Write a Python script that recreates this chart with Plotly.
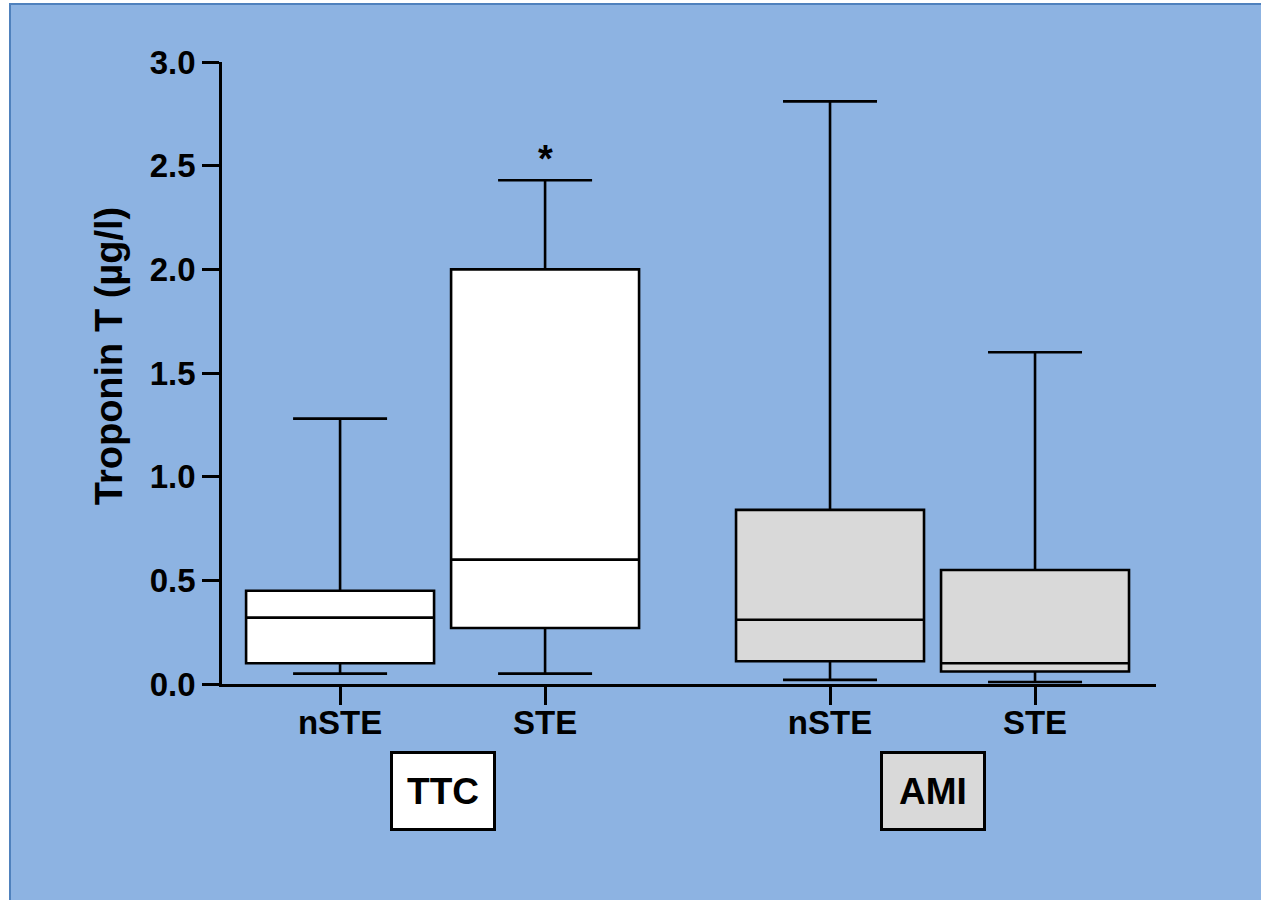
import plotly.graph_objects as go

# ---- data ----
groups = ["TTC", "TTC", "AMI", "AMI"]
subgroups = ["nSTE", "STE", "nSTE", "STE"]
positions = [0.576, 1.576, 2.966, 3.966]
lower_fence = [0.05, 0.05, 0.02, 0.01]
q1_vals = [0.10, 0.27, 0.11, 0.06]
median_vals = [0.32, 0.60, 0.31, 0.10]
q3_vals = [0.45, 2.00, 0.84, 0.55]
upper_fence = [1.28, 2.43, 2.81, 1.60]
fill_colors = {"TTC": "#FFFFFF", "AMI": "#D9D9D9"}
y_ticks = [0.0, 0.5, 1.0, 1.5, 2.0, 2.5, 3.0]

FONT = "Arial, Liberation Sans, Helvetica, sans-serif"
BG = "#8DB3E2"

fig = go.Figure()
for i in range(len(positions)):
    fig.add_trace(go.Box(
        x=[positions[i]],
        q1=[q1_vals[i]], median=[median_vals[i]], q3=[q3_vals[i]],
        lowerfence=[lower_fence[i]], upperfence=[upper_fence[i]],
        width=0.917, whiskerwidth=0.5,
        fillcolor=fill_colors[groups[i]],
        line=dict(color="black", width=2.6),
        boxpoints=False, hoverinfo="skip", showlegend=False,
    ))

# significance asterisk above TTC STE
fig.add_annotation(x=positions[1], y=upper_fence[1], xref="x", yref="y",
                   text="*", showarrow=False, yanchor="bottom", yshift=-2,
                   font=dict(family=FONT, size=38, color="black", weight="bold"))

# group label boxes
group_names = ["TTC", "AMI"]
for g in group_names:
    idx = [i for i in range(len(groups)) if groups[i] == g]
    cx = sum(positions[i] for i in idx) / len(idx)
    fig.add_annotation(x=cx, y=-0.172, xref="x", yref="paper",
                       text="<b>" + g + "</b>", showarrow=False,
                       xanchor="center", yanchor="middle",
                       width=100, height=74, align="center", valign="middle",
                       bgcolor=fill_colors[g], bordercolor="black", borderwidth=3,
                       borderpad=0,
                       font=dict(family=FONT, size=37, color="black"))

# y axis title
fig.add_annotation(x=-0.121, y=0.527, xref="paper", yref="paper",
                   xanchor="center", yanchor="middle",
                   text="<b>Troponin T (µg/l)</b>", textangle=-90, showarrow=False,
                   font=dict(family=FONT, size=38, color="black"))

# background panel with border (top and left edges visible)
fig.add_shape(type="rect", xref="paper", yref="paper",
              x0=(10 - 222) / 934, x1=(1290 - 222) / 934,
              y0=(684 - 930) / 622, y1=(684 - 4) / 622,
              fillcolor=BG, line=dict(color="#4F81BD", width=2), layer="below")

fig.update_layout(
    width=1261, height=900,
    margin=dict(l=222, r=105, t=62, b=216),
    paper_bgcolor="white", plot_bgcolor="rgba(0,0,0,0)",
    font=dict(family=FONT, color="black"),
    boxgap=0, boxgroupgap=0,
)
fig.update_xaxes(
    range=[0, 934 / 205], tickvals=positions, ticktext=subgroups,
    showline=True, linecolor="black", linewidth=2.5,
    ticks="outside", ticklen=18, tickwidth=3, tickcolor="black",
    ticklabelstandoff=-10,
    showgrid=False, zeroline=False,
    tickfont=dict(family=FONT, size=33, color="black", weight="bold"),
)
fig.update_yaxes(
    range=[0, 3.0], tickvals=y_ticks, tickformat=".1f",
    showline=True, linecolor="black", linewidth=2.5,
    ticks="outside", ticklen=17, tickwidth=3, tickcolor="black",
    showgrid=False, zeroline=False,
    tickfont=dict(family=FONT, size=33, color="black", weight="bold"),
)

fig.write_html("out.html", config={"displayModeBar": False},
               post_script="document.body.style.margin='0';document.body.style.overflow='hidden';")
